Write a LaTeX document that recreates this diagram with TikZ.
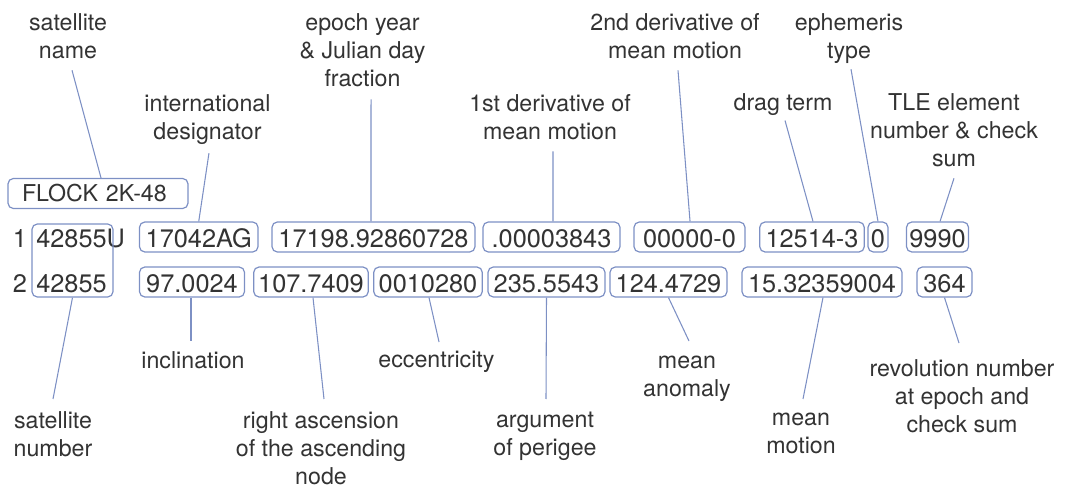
\documentclass[tikz,border=0pt]{standalone}
\usepackage{fontspec}
\setmainfont{TeX Gyre Heros}
\definecolor{edgeblue}{HTML}{7D90C4}
\definecolor{inkgrey}{HTML}{333333}

\begin{document}
\begin{tikzpicture}[
  x=0.75pt, y=-0.75pt,
  field/.style={draw=edgeblue, rounded corners=4pt, line width=0.9pt,
                inner sep=0pt, minimum height=22.5pt, text=inkgrey,
                font=\fontsize{19}{21}\selectfont,
                text height=15.75pt, text depth=0pt},
  digits/.style={inner sep=0pt, text=inkgrey,
                 font=\fontsize{19}{21}\selectfont,
                 text height=15.75pt, text depth=0pt},
  note/.style={inner sep=0pt, align=center, anchor=north, text=inkgrey,
               font=\fontsize{17.4}{21}\selectfont},
  lead/.style={draw=edgeblue, line width=0.8pt},
]
  \useasboundingbox (0,0) rectangle (1065,488);

  % name line
  \node[field, font=\fontsize{17.4}{21}\selectfont, text height=12.5pt,
        inner xsep=10.5pt, text width=114pt, align=left]
    (flock) at (98,193.5) {FLOCK 2K-48};

  % line 1
  \node[digits] (one) at (20,237) {1};
  \node[digits, anchor=west] (idone) at (36,237) {42855U};
  \node[field, minimum width=88.9pt] (desig) at (198.75,237) {17042AG};
  \node[field, minimum width=152.25pt] (epoch) at (373.5,237) {17198.92860728};
  \node[field, minimum width=102.75pt] (ndot) at (551.5,237) {.00003843};
  \node[field, minimum width=83.25pt] (nddot) at (689.5,237) {00000-0};
  \node[field, minimum width=78.4pt] (drag) at (812,237) {12514-3};
  \node[field, minimum width=15pt] (ephem) at (878,237) {0};
  \node[field, minimum width=46.5pt] (elnum) at (937.5,237) {9990};

  % line 2
  \node[digits] (two) at (20,282) {2};
  \node[digits, anchor=west] (idtwo) at (36,282) {42855};
  \node[field, minimum width=78.75pt] (incl) at (192,282) {97.0024};
  \node[field, minimum width=85.9pt] (raan) at (311,282) {107.7409};
  \node[field, minimum width=81.4pt] (ecc) at (428,282) {0010280};
  \node[field, minimum width=87.75pt] (argp) at (546.5,282) {235.5543};
  \node[field, minimum width=87.75pt] (anom) at (668.5,282) {124.4729};
  \node[field, minimum width=120pt] (mmot) at (822,282) {15.32359004};
  \node[field, minimum width=41.25pt] (revnum) at (944.5,282) {364};

  % satellite number, both lines
  \node[field, minimum width=60.75pt, minimum height=54.75pt]
    (satnum) at (72.5,260.5) {};

  % labels above
  \node[note] (sname) at (68,13) {satellite\\name};
  \node[note] (intl) at (207.5,94) {international\\designator};
  \node[note] (epochl) at (362.5,13) {epoch year\\\& Julian day\\fraction};
  \node[note] (ndotl) at (550,94) {1st derivative of\\mean motion};
  \node[note] (nddotl) at (675,13) {2nd derivative of\\mean motion};
  \node[note] (dragl) at (783,93) {drag term};
  \node[note] (ephl) at (849,13) {ephemeris\\type};
  \node[note] (elnuml) at (954,93) {TLE element\\number \& check\\sum};

  % labels below
  \node[note] (satnuml) at (53,411) {satellite\\number};
  \node[note] (incll) at (193,351) {inclination};
  \node[note] (raanl) at (321,411) {right ascension\\of the ascending\\node};
  \node[note] (eccl) at (436.5,351) {eccentricity};
  \node[note] (argpl) at (545,412) {argument\\of perigee};
  \node[note] (anoml) at (687,356) {mean\\anomaly};
  \node[note] (mmotl) at (801,413) {mean\\motion};
  \node[note] (revnuml) at (962,359) {revolution number\\at epoch and\\check sum};

  % leaders from above
  \draw[lead] ([xshift=3pt,yshift=-8.6pt]sname.south) -- ([xshift=2.25pt]flock.north);
  \draw[lead] ([xshift=1.1pt,yshift=-6.5pt]intl.south) -- (desig.north);
  \draw[lead] ([xshift=6.4pt,yshift=-9.4pt]epochl.south) -- ([xshift=-1.9pt]epoch.north);
  \draw[lead] ([xshift=2.25pt,yshift=-8.6pt]ndotl.south) -- ([xshift=1.1pt]ndot.north);
  \draw[lead] ([xshift=2.25pt,yshift=-8.6pt]nddotl.south) -- ([xshift=0.4pt]nddot.north);
  \draw[lead] ([xshift=1.5pt,yshift=-3.75pt]dragl.south) -- ([xshift=0.75pt]drag.north);
  \draw[lead] ([xshift=1.5pt,yshift=-4.3pt]ephl.south) -- (ephem.north);
  \draw[lead] ([yshift=-8.6pt]elnuml.south) -- ([xshift=1.9pt]elnum.north);

  % leaders to below
  \draw[lead] (satnum.south) -- ([yshift=9pt]satnuml.north);
  \draw[lead] ([xshift=-0.75pt]incl.south) -- ([xshift=-1.5pt,yshift=7.5pt]incll.north);
  \draw[lead] ([xshift=1.5pt]raan.south) -- ([xshift=2.25pt,yshift=9pt]raanl.north);
  \draw[lead] ([xshift=0.75pt]ecc.south) -- ([xshift=1.9pt,yshift=6.75pt]eccl.north);
  \draw[lead] (argp.south) -- ([xshift=0.75pt,yshift=9.75pt]argpl.north);
  \draw[lead] (anom.south) -- ([xshift=1.5pt,yshift=11.25pt]anoml.north);
  \draw[lead] ([xshift=0.75pt]mmot.south) -- ([xshift=1.5pt,yshift=10.5pt]mmotl.north);
  \draw[lead] (revnum.south) -- ([xshift=-2.25pt,yshift=12pt]revnuml.north);
\end{tikzpicture}
\end{document}
